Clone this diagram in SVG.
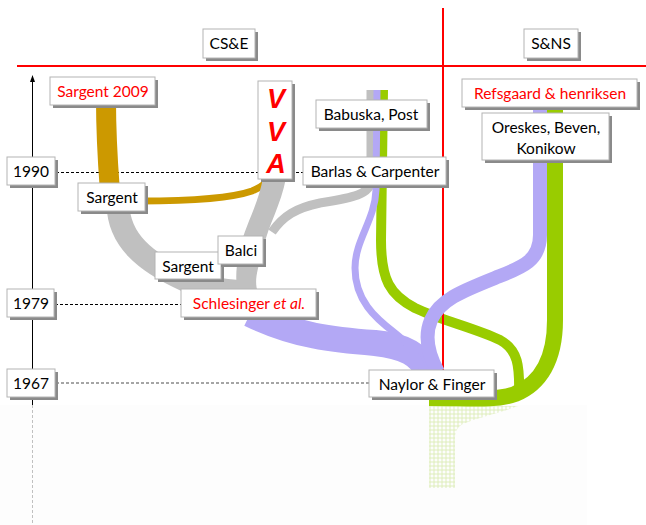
<svg xmlns="http://www.w3.org/2000/svg" width="646" height="525" viewBox="0 0 646 525">
  <defs>
    <style>
      .box { fill: #ffffff; stroke: #b4b4b4; stroke-width: 1; }
      .shadow { fill: #8a8a8a; }
      .lbl { font-family: Lato, "Liberation Sans", sans-serif; font-size: 15.5px; fill: #000000; text-anchor: middle; }
      .red { fill: #ff0000; }
      .gold { fill: none; stroke: #cc9900; }
      .gray { fill: none; stroke: #c0c0c0; }
      .lav { fill: none; stroke: #b3a8f5; }
      .grn { fill: none; stroke: #99cc00; }
      .year { stroke: #000000; stroke-width: 1; stroke-dasharray: 3 2; fill: none; shape-rendering: crispEdges; }
    </style>
    <pattern id="dots" width="4" height="4" patternUnits="userSpaceOnUse">
      <circle cx="2" cy="2" r="1.2" fill="none" stroke="#cfe59a" stroke-width="0.7"/>
    </pattern>
  </defs>

  <rect x="0" y="0" width="646" height="525" fill="#ffffff"/>
  <!-- faint lower band -->
  <rect x="0" y="405" width="587" height="120" fill="#fdfdfd"/>

  <!-- time axis -->
  <g id="axis">
    <line x1="32.5" y1="405" x2="32.5" y2="80" stroke="#000000" stroke-width="1"/>
    <path d="M30,82 L32.5,75 L35,82 Z" fill="#000000"/>
    <line x1="32.5" y1="405" x2="32.5" y2="525" stroke="#c0c0c0" stroke-width="1" stroke-dasharray="3 2"/>
    <line class="year" x1="56" y1="172.5" x2="303" y2="172.5"/>
    <line class="year" x1="55" y1="304.5" x2="181" y2="304.5"/>
    <line x1="56" y1="383" x2="369" y2="383" stroke="#888888" stroke-width="1.5" stroke-dasharray="3 2"/>
  </g>

  <!-- domain dividers -->
  <g id="dividers">
    <line x1="17" y1="66" x2="646" y2="66" stroke="#ff0000" stroke-width="2"/>
  </g>

  <!-- flows -->
  <g id="connectors">
    <!-- faded continuation below Naylor & Finger -->
    <path d="M429,406 L518,406 C500,413 476,418 463,424 C456,428 455,433 455,440 L455,488 L429,488 Z" fill="url(#dots)"/>

    <!-- gold -->
    <path class="gold" stroke-width="20" d="M106,100 C106,140 108,165 110,192"/>
    <path class="gold" stroke-width="7" d="M140,201 C190,201 232,198 252,191 C262,187 267,183 272,176"/>

    <!-- gray -->
    <path class="gray" stroke-width="9" d="M371,90 L371,180 C371,195 350,198 320,203 C296,208 283,216 272,232"/>
    <path fill="#c0c0c0" d="M263,178 L286,178 C281,205 268,226 264,246 C259,266 253,280 258,292 L238,292 C235,280 236,266 240,248 C245,226 258,205 263,178 Z"/>
    <path class="gray" stroke-width="23" d="M118,205 C119,240 145,262 185,280 C205,288 220,290 245,292"/>

    <!-- green, left strand -->
    <path class="grn" stroke-width="10" d="M383,90 L381,240 C381,280 390,295 415,308 C440,320 475,328 500,340 C518,350 520,365 519,398"/>
    <!-- green, right strand -->
    <path class="grn" stroke-width="16" d="M555,100 L555,320 C555,360 540,384 515,394 C495,401 470,398 429,398"/>

    <line x1="443" y1="8" x2="443" y2="372" stroke="#ff0000" stroke-width="2"/>

    <!-- lavender -->
    <path class="lav" stroke-width="26" d="M250,314 C295,336 335,340 375,343 C405,346 420,355 428,372"/>
    <path class="lav" stroke-width="7" d="M377,90 L376,190 C375,220 355,240 355,268 C355,300 375,318 395,333 C408,343 418,356 424,372"/>
    <path class="lav" stroke-width="14" d="M540,100 L540,235 C540,262 520,268 495,278 C460,292 440,300 431,320 C425,334 427,352 438,372"/>
  </g>

  <!-- section headers -->
  <g id="cse">
    <rect class="shadow" x="206" y="32" width="52" height="29"/>
    <rect class="box" x="203" y="29" width="52" height="29"/>
    <text class="lbl" x="229" y="49">CS&amp;E</text>
  </g>
  <g id="snns">
    <rect class="shadow" x="527" y="32" width="54" height="29"/>
    <rect class="box" x="524" y="29" width="54" height="29"/>
    <text class="lbl" x="551" y="49">S&amp;NS</text>
  </g>

  <!-- year markers -->
  <g id="y1990">
    <rect class="shadow" x="10" y="160" width="48" height="28"/>
    <rect class="box" x="7" y="157" width="48" height="28"/>
    <text class="lbl" x="31" y="177">1990</text>
  </g>
  <g id="y1979">
    <rect class="shadow" x="10" y="292" width="47" height="28"/>
    <rect class="box" x="7" y="289" width="47" height="28"/>
    <text class="lbl" x="31" y="309">1979</text>
  </g>
  <g id="y1967">
    <rect class="shadow" x="10" y="372" width="48" height="28"/>
    <rect class="box" x="7" y="369" width="48" height="28"/>
    <text class="lbl" x="31" y="389">1967</text>
  </g>

  <!-- publications -->
  <g id="sargent2009">
    <rect class="shadow" x="53" y="80" width="105" height="28"/>
    <rect class="box" x="50" y="77" width="105" height="28"/>
    <text class="lbl red" x="103" y="97">Sargent 2009</text>
  </g>
  <g id="vva">
    <rect class="shadow" x="261" y="84" width="34" height="98"/>
    <rect class="box" x="258" y="81" width="34" height="98"/>
    <g font-family="'Liberation Sans', Arial, sans-serif" font-size="27" font-weight="bold" font-style="italic" fill="#ff0000" text-anchor="middle">
      <text x="276" y="108">V</text>
      <text x="276" y="141">V</text>
      <text x="276" y="173">A</text>
    </g>
  </g>
  <g id="babuska">
    <rect class="shadow" x="319" y="103" width="111" height="28"/>
    <rect class="box" x="316" y="100" width="111" height="28"/>
    <text class="lbl" x="371" y="120">Babuska, Post</text>
  </g>
  <g id="barlas">
    <rect class="shadow" x="306" y="160" width="143" height="28"/>
    <rect class="box" x="303" y="157" width="143" height="28"/>
    <text class="lbl" x="375" y="177">Barlas &amp; Carpenter</text>
  </g>
  <g id="refsgaard">
    <rect class="shadow" x="465" y="82" width="175" height="28"/>
    <rect class="box" x="462" y="79" width="175" height="28"/>
    <text class="lbl red" x="550" y="99">Refsgaard &amp; henriksen</text>
  </g>
  <g id="oreskes">
    <rect class="shadow" x="485" y="116" width="127" height="47"/>
    <rect class="box" x="482" y="113" width="127" height="47"/>
    <text class="lbl" x="546" y="133">Oreskes, Beven,</text>
    <text class="lbl" x="546" y="154">Konikow</text>
  </g>
  <g id="sargentA">
    <rect class="shadow" x="81" y="186" width="67" height="28"/>
    <rect class="box" x="78" y="183" width="67" height="28"/>
    <text class="lbl" x="112" y="203">Sargent</text>
  </g>
  <g id="sargentB">
    <rect class="shadow" x="158" y="255" width="66" height="27"/>
    <rect class="box" x="155" y="252" width="66" height="27"/>
    <text class="lbl" x="188" y="272">Sargent</text>
  </g>
  <g id="balci">
    <rect class="shadow" x="221" y="239" width="45" height="28"/>
    <rect class="box" x="218" y="236" width="45" height="28"/>
    <text class="lbl" x="241" y="256">Balci</text>
  </g>
  <g id="schlesinger">
    <rect class="shadow" x="184" y="292" width="135" height="28"/>
    <rect class="box" x="181" y="289" width="135" height="28"/>
    <text class="lbl red" x="249" y="309">Schlesinger <tspan font-style="italic">et al.</tspan></text>
  </g>
  <g id="naylor">
    <rect class="shadow" x="372" y="373" width="125" height="27"/>
    <rect class="box" x="369" y="370" width="125" height="27"/>
    <text class="lbl" x="432" y="390">Naylor &amp; Finger</text>
  </g>
</svg>
